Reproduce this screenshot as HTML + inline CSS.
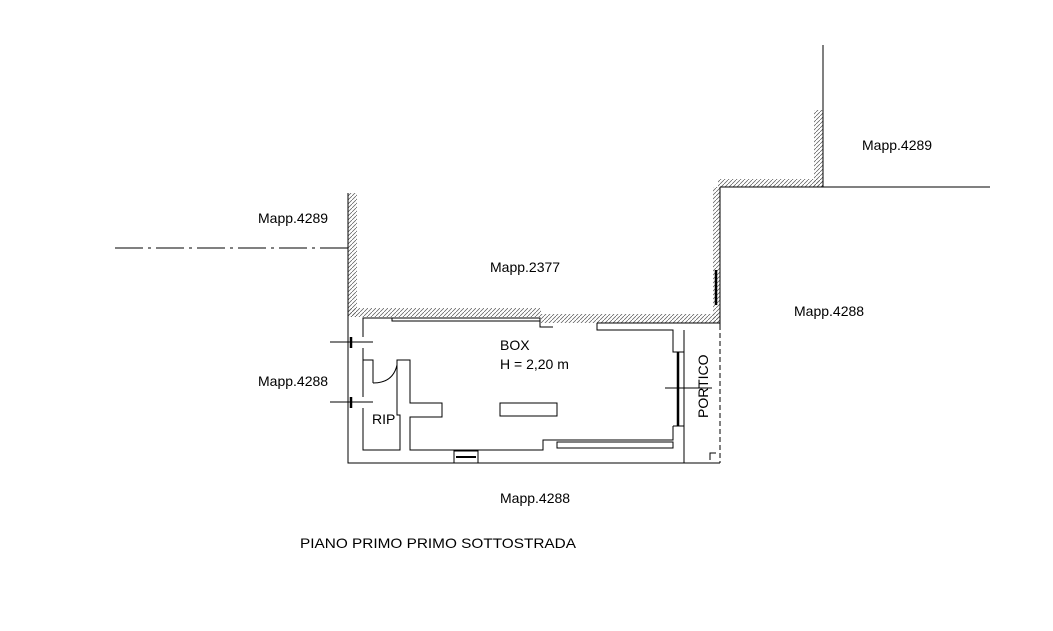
<!DOCTYPE html>
<html><head><meta charset="utf-8"><style>
html,body{margin:0;padding:0;background:#fff;}
svg{display:block;}
text{font-family:"Liberation Sans",sans-serif;font-size:14px;fill:#000;}
</style></head><body>
<svg width="1053" height="631" viewBox="0 0 1053 631" xmlns="http://www.w3.org/2000/svg">
<defs>
<pattern id="h" patternUnits="userSpaceOnUse" width="4" height="4">
<path d="M-1,5 L5,-1" stroke="#555" stroke-width="0.7"/>
</pattern>
</defs>
<g fill="url(#h)" stroke="none">
<rect x="348" y="193" width="9" height="124"/>
<rect x="348" y="308" width="193" height="9"/>
<rect x="541" y="314" width="179" height="9"/>
<rect x="713" y="187" width="7" height="136"/>
<rect x="718" y="179" width="105" height="8"/>
<rect x="814" y="110" width="9" height="77"/>
</g>
<g stroke="#000" stroke-width="1" fill="none">
<path d="M348,193 V463 H720"/>
<path d="M823,45 V187"/>
<path d="M720,187 H990"/>
<path d="M720,187 V325"/>
<path d="M115,248 H348" stroke-dasharray="28,5,3,5"/>
<path d="M720,325 V463" stroke-dasharray="5,3"/>
<path d="M363,337 V318 H540 V327 H553"/>
<path d="M392,318 V321 H540"/>
<path d="M597,323 V330 H673 V352 H684 V330"/>
<path d="M597,323 H720"/>
<path d="M684,352 V463"/>
<path d="M673,426 H684"/>
<path d="M678,352 V426" stroke-width="2.5"/>
<path d="M665,388 H712"/>
<path d="M673,426 V440 H543 V450 H410 V417 H442 V403 H410 V360 H397 V415 H400 V450 H363 V408"/>
<rect x="557" y="442" width="116" height="6"/>
<rect x="500" y="403" width="57" height="13"/>
<rect x="454" y="451" width="24" height="12"/>
<path d="M456,457 H476" stroke-width="2"/>
<path d="M363,348 V397"/>
<path d="M363,360 H373 V383"/>
<path d="M373,383 Q393,383 397,365"/>
<path d="M330,342 H373 M330,402 H373"/>
<path d="M351,337 V348 M351,397 V408" stroke-width="2.5"/>
<path d="M716,270 V305" stroke-width="2.5"/>
<path d="M710,460 V453 H716"/>
</g>
<text x="258" y="223">Mapp.4289</text>
<text x="490" y="272">Mapp.2377</text>
<text x="862" y="150">Mapp.4289</text>
<text x="794" y="316">Mapp.4288</text>
<text x="258" y="386">Mapp.4288</text>
<text x="500" y="503">Mapp.4288</text>
<text x="300" y="548" textLength="276" lengthAdjust="spacingAndGlyphs">PIANO PRIMO PRIMO SOTTOSTRADA</text>
<text x="500" y="350">BOX</text>
<text x="500" y="369">H = 2,20 m</text>
<text x="372" y="424">RIP</text>
<text x="0" y="0" transform="translate(708,418) rotate(-90)">PORTICO</text>
</svg>
</body></html>
